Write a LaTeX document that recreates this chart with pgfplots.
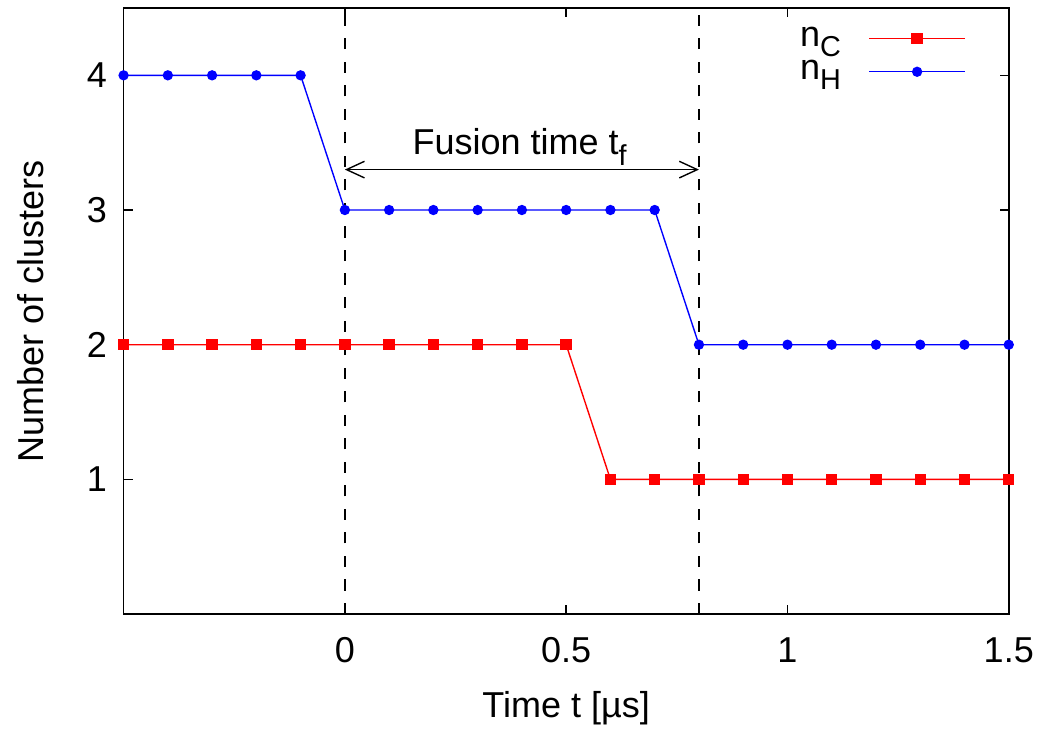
\documentclass[border=0pt]{standalone}
\usepackage{fontspec}
\setmainfont{Liberation Sans}
\usepackage{pgfplots}
\pgfplotsset{compat=1.18}
\usetikzlibrary{arrows.meta}

\newcommand{\sub}[1]{\raisebox{-3.8pt}{\fontsize{10.4}{12}\selectfont #1}}

\begin{document}
\begin{tikzpicture}[font=\fontsize{13}{15.6}\selectfont]
\begin{axis}[
    scale only axis,
    width=319.7pt, height=218.9pt,
    xmin=-0.5, xmax=1.5,
    ymin=0, ymax=4.5,
    xtick={0,0.5,1,1.5},
    ytick={1,2,3,4},
    tick align=inside,
    major tick length=3.3pt,
    axis line style={line width=0.6pt},
    tick style={line width=0.5pt, black},
    /pgf/number format/assume math mode=true,
    xticklabel style={yshift=-5pt},
    yticklabel style={xshift=-2.5pt},
    xlabel={Time t [µs]},
    ylabel={Number of clusters},
    xlabel style={at={(axis description cs:0.5,-0.155)}, anchor=center},
    ylabel style={at={(axis description cs:-0.1045,0.5)}, anchor=center, rotate=0},
    clip=false,
    legend cell align=right,
    legend plot pos=right,
    legend style={at={(rel axis cs:0.952,0.979)}, anchor=north east,
        draw=none, fill=none, inner sep=0pt, row sep=-0.5pt, column sep=8pt,
        font=\fontsize{13}{15.6}\selectfont},
    legend image code/.code={
        \draw[mark repeat=2,mark phase=2,#1]
            plot coordinates {(0pt,0pt) (17.3pt,0pt) (34.6pt,0pt)};},
]
% n_C
\addplot[color=red, line width=0.5pt, mark=square*, mark size=1.8pt,
    mark options={solid}] coordinates {
    (-0.5,2) (-0.4,2) (-0.3,2) (-0.2,2) (-0.1,2) (0,2) (0.1,2) (0.2,2)
    (0.3,2) (0.4,2) (0.5,2) (0.6,1) (0.7,1) (0.8,1) (0.9,1) (1.0,1)
    (1.1,1) (1.2,1) (1.3,1) (1.4,1) (1.5,1)
};
% n_H
\addplot[color=blue, line width=0.5pt, mark=*, mark size=1.6pt,
    mark options={solid}] coordinates {
    (-0.5,4) (-0.4,4) (-0.3,4) (-0.2,4) (-0.1,4) (0,3) (0.1,3) (0.2,3)
    (0.3,3) (0.4,3) (0.5,3) (0.6,3) (0.7,3) (0.8,2) (0.9,2) (1.0,2)
    (1.1,2) (1.2,2) (1.3,2) (1.4,2) (1.5,2)
};
\legend{n\sub{C}, n\sub{H}}
% fusion window
\addplot[black, line width=0.75pt, dash pattern=on 4pt off 4.5pt, forget plot]
    coordinates {(0,0) (0,4.5)};
\addplot[black, line width=0.75pt, dash pattern=on 4pt off 4.5pt, forget plot]
    coordinates {(0.8,0) (0.8,4.5)};
\draw[line width=0.5pt, {Straight Barb[length=6.5pt,width=6pt]}-{Straight Barb[length=6.5pt,width=6pt]}]
    (axis cs:0,3.3) -- (axis cs:0.8,3.3);
\node at (axis cs:0.395,3.47) {Fusion time t\sub{f}};
% page extent
\path (rel axis cs:-0.1396,-0.1826) rectangle (rel axis cs:1.0349,1.0132);
\end{axis}
\end{tikzpicture}
\end{document}
